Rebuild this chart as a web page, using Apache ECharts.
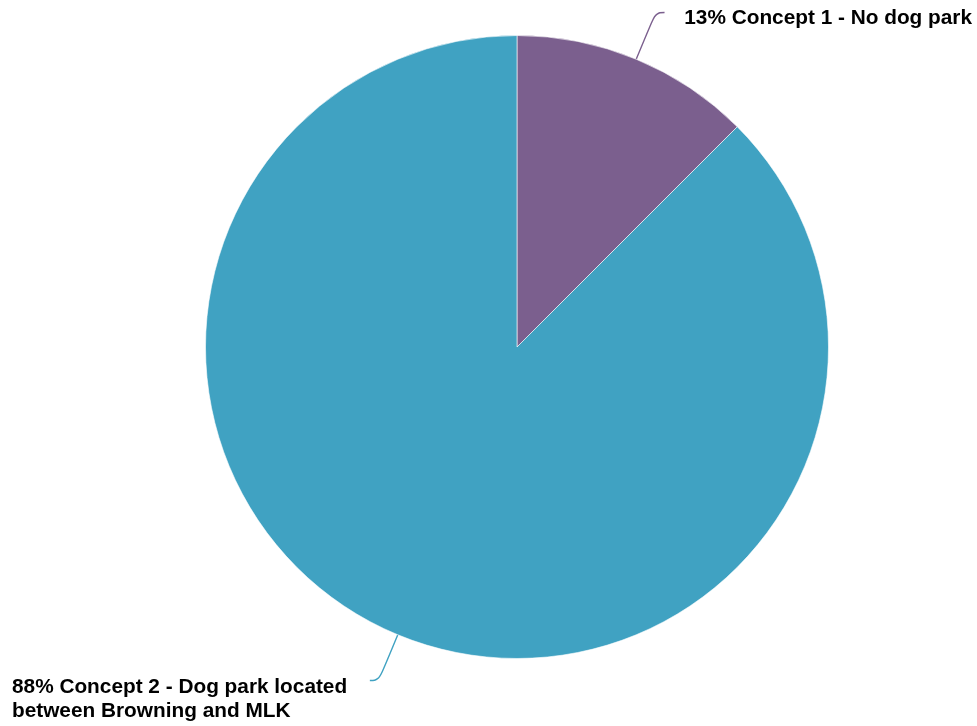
<!DOCTYPE html>
<html>
<head>
<meta charset="utf-8">
<script src="https://cdn.jsdelivr.net/npm/echarts@6/dist/echarts.min.js"></script>
<style>html,body{margin:0;padding:0;background:#fff;}#c{width:977px;height:726px;}</style>
</head>
<body>
<div id="c"></div>
<script>
const categories = ['Concept 1 - No dog park', 'Concept 2 - Dog park located\nbetween Browning and MLK'];
const values = [12.5, 87.5];
const colors = ['#7B5F8E', '#40A2C2'];

const chart = echarts.init(document.getElementById('c'), null, {renderer: 'canvas'});
const labelCommon = {
  show: true,
  position: 'outside',
  alignTo: 'edge',
  distanceToLabelLine: 21,
  fontFamily: '"Liberation Sans", Arial, Helvetica, sans-serif',
  fontWeight: 'bold',
  fontSize: 20.8,
  lineHeight: 24,
  color: '#000'
};
const spacer = [12, 38];
const edges = [5, 12];
const lens = [50.5, 49.5];
chart.setOption({
  animation: false,
  series: [{
    type: 'pie',
    center: [517, 347],
    radius: [0, 311.5],
    startAngle: 90,
    clockwise: true,
    avoidLabelOverlap: false,
    itemStyle: {borderColor: '#ffffff', borderWidth: 0.6},
    labelLine: {show: true, length: 50, length2: 9, smooth: 0.45, lineStyle: {width: 1.4}},
    label: labelCommon,
    data: categories.map((n, i) => ({
      name: n,
      value: values[i],
      itemStyle: {color: colors[i]},
      labelLine: {length: lens[i]},
      label: {
        edgeDistance: edges[i],
        formatter: p => '{sp| }\n' + Math.round(p.percent) + '% ' + p.name,
        rich: {sp: {fontSize: 1, lineHeight: spacer[i]}}
      }
    }))
  }]
});
</script>
</body>
</html>
